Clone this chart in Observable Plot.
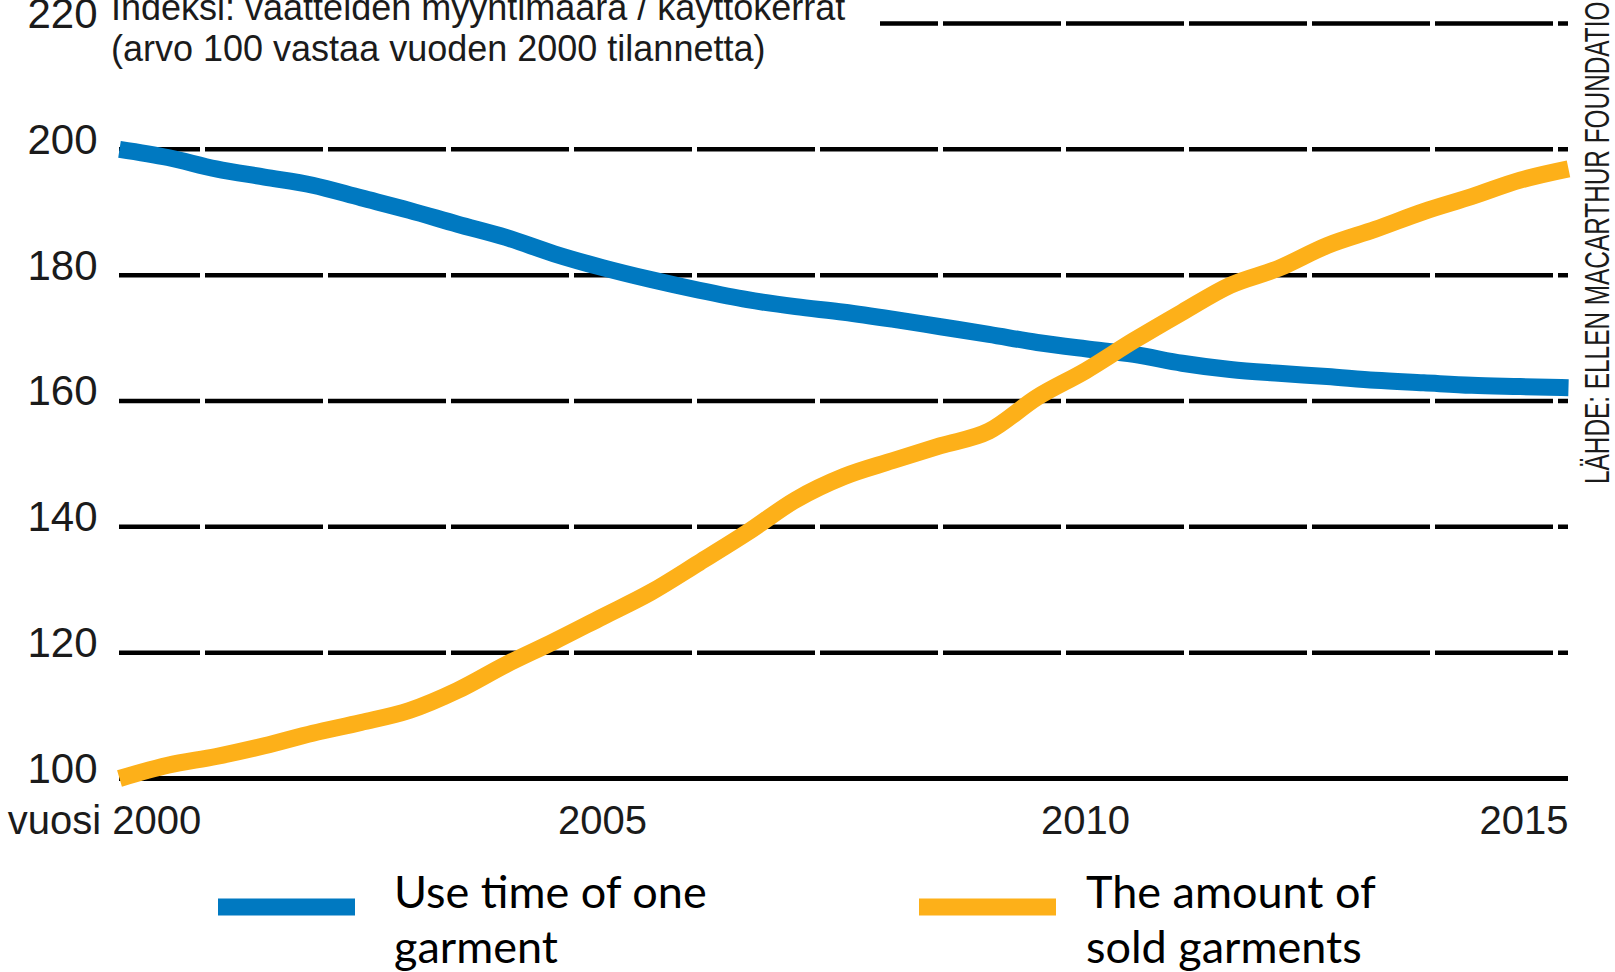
<!DOCTYPE html>
<html>
<head>
<meta charset="utf-8">
<script src="https://cdn.jsdelivr.net/npm/d3@7"></script>
<script src="https://cdn.jsdelivr.net/npm/@observablehq/plot@0.6"></script>
<style>
  html, body { margin: 0; padding: 0; background: #fff; }
  #chart { width: 1615px; height: 850px; overflow: hidden; }
  #legend { display: block; }
</style>
</head>
<body>
<div id="chart"></div>
<svg id="legend" width="1615" height="122"></svg>
<script>
// Index values, year 2000 = 100 (sampled every half year)
const years = [2000, 2000.5, 2001, 2001.5, 2002, 2002.5, 2003, 2003.5, 2004, 2004.5,
               2005, 2005.5, 2006, 2006.5, 2007, 2007.5, 2008, 2008.5, 2009, 2009.5,
               2010, 2010.5, 2011, 2011.5, 2012, 2012.5, 2013, 2013.5, 2014, 2014.5, 2015];
const useTime = [200.0, 198.7, 196.9, 195.6, 194.3, 192.3, 190.3, 188.1, 186.0, 183.4,
                 181.2, 179.3, 177.6, 176.1, 175.0, 174.1, 173.0, 171.8, 170.6, 169.3,
                 168.3, 167.4, 166.0, 165.0, 164.4, 163.9, 163.3, 162.9, 162.5, 162.3, 162.1];
const soldAmount = [100.0, 102.1, 103.5, 105.2, 107.2, 108.9, 110.8, 114.0, 118.1, 121.8,
                    125.7, 129.6, 134.3, 139.1, 144.3, 148.0, 150.5, 152.9, 155.2, 160.6,
                    164.8, 169.6, 174.1, 178.4, 181.1, 184.7, 187.3, 190.1, 192.5, 195.1, 196.9];

const yTicks = [100, 120, 140, 160, 180, 200, 220];
const xTickYears = [2000, 2005, 2010, 2015];
const xTickLabels = ["vuosi 2000", "2005", "2010", "2015"];

const seriesNames = [["Use time of one", "garment"], ["The amount of", "sold garments"]];
const seriesColors = ["#0079C1", "#FDB019"];
const titleLines = ["Indeksi: vaatteiden myyntimäärä / käyttökerrat",
                    "(arvo 100 vastaa vuoden 2000 tilannetta)"];
const sourceText = "LÄHDE: ELLEN MACARTHUR FOUNDATION";

const rows = years.map((year, i) => ({year, use: useTime[i], sold: soldAmount[i]}));
const xTicks = xTickYears.map((year, i) => ({year, label: xTickLabels[i]}));
const inkColor = "#1b1b1b";
const font = "'Liberation Sans', Arial, sans-serif";

const lineStyle = {strokeWidth: 17, strokeLinecap: "butt", strokeLinejoin: "round", curve: "monotone-x"};
const xLabelStyle = {
  x: "year", text: "label", frameAnchor: "bottom", lineAnchor: "middle", dy: 43,
  fontSize: 40, fill: inkColor
};

const svg = Plot.plot({
  width: 1615,
  height: 850,
  marginLeft: 119,
  marginRight: 47,
  marginTop: 23,
  marginBottom: 72,
  style: {fontFamily: font, background: "#fff", overflow: "visible"},
  x: {domain: [2000, 2015], axis: null},
  y: {domain: [100, 220], axis: null},
  marks: [
    Plot.ruleY(yTicks.filter(v => v > 100), {
      stroke: "#000", strokeWidth: 4.5, strokeDasharray: "118 5", strokeDashoffset: 37
    }),
    Plot.ruleY([100], {stroke: "#000", strokeWidth: 5}),
    Plot.line(rows, {x: "year", y: "use", stroke: seriesColors[0], ...lineStyle}),
    Plot.line(rows, {x: "year", y: "sold", stroke: seriesColors[1], ...lineStyle}),
    Plot.axisY({
      ticks: yTicks, tickSize: 0, tickPadding: 22, fontSize: 42, dy: -9,
      tickFormat: d => String(d), color: inkColor
    }),
    Plot.text(xTicks.slice(0, 1), {...xLabelStyle, dx: -15, textAnchor: "middle"}),
    Plot.text(xTicks.slice(1, 3), {...xLabelStyle, textAnchor: "middle"}),
    Plot.text(xTicks.slice(3), {...xLabelStyle, textAnchor: "end"})
  ]
});
document.getElementById("chart").appendChild(svg);

// Title block sits over the top gridline, on a white panel
const s = d3.select(svg);
s.append("rect").attr("x", 105).attr("y", 0).attr("width", 775).attr("height", 44).attr("fill", "#fff");
s.append("g")
  .attr("font-family", font).attr("font-size", 36).attr("fill", inkColor)
  .attr("text-anchor", "start")
  .selectAll("text").data(titleLines).join("text")
  .attr("x", 111).attr("y", (d, i) => 20 + i * 41)
  .text(d => d);

// Source note, running upwards along the right edge
s.append("text")
  .attr("transform", "translate(1609,484) rotate(-90)")
  .attr("text-anchor", "start")
  .attr("font-family", font).attr("font-size", 35).attr("fill", inkColor)
  .attr("textLength", 500).attr("lengthAdjust", "spacingAndGlyphs")
  .text(sourceText);

// Legend below the chart
const legend = d3.select("#legend");
const legendX = [{swatch: 218, text: 394}, {swatch: 919, text: 1086}];
seriesNames.forEach((lines, i) => {
  legend.append("line")
    .attr("x1", legendX[i].swatch).attr("x2", legendX[i].swatch + 137)
    .attr("y1", 57).attr("y2", 57)
    .attr("stroke", seriesColors[i]).attr("stroke-width", 17);
  legend.append("g")
    .attr("font-family", "Lato, 'Open Sans', sans-serif").attr("font-size", 45).attr("fill", "#000")
    .selectAll("text").data(lines).join("text")
    .attr("x", legendX[i].text).attr("y", (d, j) => 58 + j * 55)
    .text(d => d);
});
</script>
</body>
</html>
